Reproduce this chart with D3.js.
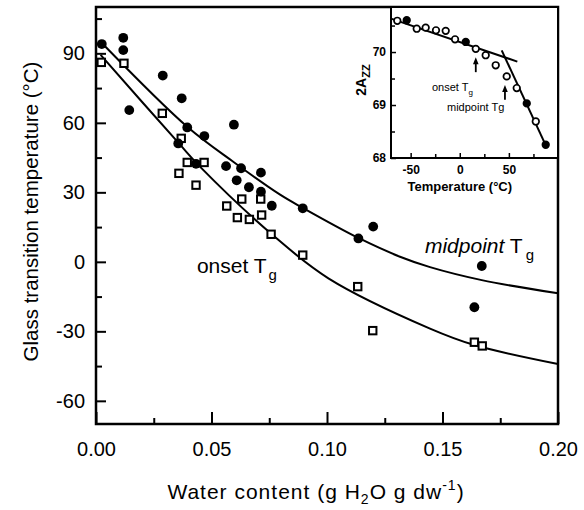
<!DOCTYPE html>
<head>
    <meta charset="utf-8">
    <script src="https://d3js.org/d3.v7.min.js"></script>
    <style>
        body {
            margin: 0;
            background-color: #fff;
        }

        text {
            font-family: "Liberation Sans", Arial, sans-serif;
            fill: #000;
        }

        .axis path {
            display: none;
        }

        .axis line {
            stroke: #000;
            stroke-width: 2px;
        }

        .axis text {
            font-size: 20px;
        }

        .inset .axis line {
            stroke-width: 1.5px;
        }

        .inset .axis text {
            font-size: 12px;
            font-weight: bold;
        }

        .frame {
            fill: none;
            stroke: #000;
            stroke-width: 2.5px;
        }

        .fit {
            fill: none;
            stroke: #000;
            stroke-width: 2px;
        }

        .mid {
            fill: #000;
        }

        .onset {
            fill: #fff;
            stroke: #000;
            stroke-width: 2px;
        }

        .esr {
            stroke: #000;
            stroke-width: 1.7px;
        }
    </style>
</head>

<body>
    <script>
        var width = 584,
            height = 510;

        // main panel: midpoint Tg (filled circles)
        var midWater = [0.0025, 0.0118, 0.0118, 0.0144, 0.0289, 0.0371, 0.0395, 0.0356, 0.0469, 0.0597,
            0.0433, 0.0563, 0.0628, 0.0714, 0.0609, 0.0662, 0.0714, 0.0761, 0.0895, 0.1136, 0.12, 0.167, 0.1638];
        var midTg = [94, 96.7, 91.4, 65.5, 80.4, 70.6, 58, 51.1, 54.3, 59.2,
            42.3, 41.3, 40.4, 38.5, 35.2, 32.2, 30.3, 24.2, 23.1, 10.1, 15.2, -1.8, -19.6];

        // onset Tg (open squares)
        var onsetWater = [0.0023, 0.0121, 0.0287, 0.0369, 0.0359, 0.0395, 0.0468, 0.0433, 0.0566, 0.0631,
            0.0713, 0.0612, 0.0664, 0.0717, 0.0758, 0.0895, 0.1133, 0.1198, 0.1638, 0.1672];
        var onsetTg = [86.1, 85.7, 64.1, 53.3, 38.2, 42.9, 42.9, 33.1, 24.1, 27.1,
            27.1, 19.1, 18.3, 20.2, 11.9, 2.9, -10.7, -29.7, -34.7, -36.3];

        // fitted curves
        var midFitWater = [0.002, 0.0395, 0.0597, 0.0797, 0.0895, 0.1136, 0.1316, 0.1446, 0.167, 0.2];
        var midFitTg = [95, 58.3, 43, 29, 23.3, 10.3, 2.2, -2.3, -7.9, -13.6];
        var onsetFitWater = [0.002, 0.0359, 0.045, 0.0761, 0.1006, 0.1446, 0.1638, 0.2];
        var onsetFitTg = [89.3, 51.1, 41.1, 11.9, -7.1, -28.8, -35.9, -44.1];

        var xMajor = [0, 0.05, 0.1, 0.15, 0.2];
        var xMinor = [0.025, 0.075, 0.125, 0.175];
        var yMajor = [-60, -30, 0, 30, 60, 90];
        var yMinor = [-45, -15, 15, 45, 75, 105];

        // inset: 2Azz vs temperature
        var insetTemp = [-63.6, -54, -43.8, -34.7, -24.2, -14.3, -4.8, 6.1, 16.3, 26.4, 36.6, 47.8, 58, 68.2, 77.4, 87.5];
        var insetA = [70.59, 70.6, 70.44, 70.46, 70.41, 70.4, 70.24, 70.19, 70.06, 69.94, 69.75, 69.54, 69.32, 69.03, 68.69, 68.25];
        var insetFilled = [0, 1, 0, 0, 0, 0, 0, 1, 0, 0, 0, 0, 0, 1, 0, 1];
        var lowLineTemp = [-70, 58.6],
            lowLineA = [70.63, 69.82];
        var highLineTemp = [42.7, 88.5],
            highLineA = [70.03, 68.2];
        var arrowTemp = [16.3, 46],
            arrowFrom = [69.62, 69.1],
            arrowTo = [69.9, 69.38];
        var insetXMajor = [-50, 0, 50];
        var insetXMinor = [-25, 25, 75];
        var insetYMajor = [68, 69, 70];
        var insetYMinor = [68.5, 69.5, 70.5];

        var plotLeft = 96,
            plotRight = 558,
            plotTop = 7,
            plotBottom = 424;

        var svg = d3.select("body").append("svg")
            .attr("width", width)
            .attr("height", height);

        var x = d3.scaleLinear().domain([0, 0.2]).range([plotLeft, plotRight]);
        var y = d3.scaleLinear().domain([-70, 110]).range([plotBottom, plotTop]);

        var line = d3.line()
            .x(function(d) { return x(d[0]); })
            .y(function(d) { return y(d[1]); })
            .curve(d3.curveCatmullRom);

        // axes (ticks point inward)
        svg.append("g")
            .attr("class", "axis")
            .attr("transform", "translate(0," + plotBottom + ")")
            .call(d3.axisBottom(x).tickValues(xMinor).tickSize(-6).tickFormat(""));

        svg.append("g")
            .attr("class", "axis")
            .attr("transform", "translate(0," + plotBottom + ")")
            .call(d3.axisBottom(x).tickValues(xMajor).tickSize(-12).tickPadding(18).tickFormat(d3.format(".2f")));

        svg.append("g")
            .attr("class", "axis")
            .attr("transform", "translate(" + plotLeft + ",0)")
            .call(d3.axisLeft(y).tickValues(yMinor).tickSize(-6).tickFormat(""));

        svg.append("g")
            .attr("class", "axis")
            .attr("transform", "translate(" + plotLeft + ",0)")
            .call(d3.axisLeft(y).tickValues(yMajor).tickSize(-10).tickPadding(11).tickFormat(function(d) {
                return String(d);
            }));

        // fits
        svg.append("path")
            .attr("class", "fit")
            .attr("d", line(d3.zip(midFitWater, midFitTg)));

        svg.append("path")
            .attr("class", "fit")
            .attr("d", line(d3.zip(onsetFitWater, onsetFitTg)));

        // points
        svg.append("g")
            .selectAll("rect")
            .data(d3.zip(onsetWater, onsetTg))
            .enter().append("rect")
            .attr("class", "onset")
            .attr("x", function(d) { return x(d[0]) - 3.7; })
            .attr("y", function(d) { return y(d[1]) - 3.7; })
            .attr("width", 7.4)
            .attr("height", 7.4);

        svg.append("g")
            .selectAll("circle")
            .data(d3.zip(midWater, midTg))
            .enter().append("circle")
            .attr("class", "mid")
            .attr("cx", function(d) { return x(d[0]); })
            .attr("cy", function(d) { return y(d[1]); })
            .attr("r", 4.9);

        // labels
        var onsetLabel = svg.append("text")
            .attr("x", x(0.0437))
            .attr("y", y(-5))
            .style("font-size", "21px");
        onsetLabel.append("tspan").text("onset T");
        onsetLabel.append("tspan").attr("dx", 2).attr("dy", 7).style("font-size", "15px").text("g");

        var midLabel = svg.append("text")
            .attr("x", x(0.1424))
            .attr("y", y(3.7))
            .style("font-size", "21px");
        midLabel.append("tspan").style("font-style", "italic").text("midpoint");
        midLabel.append("tspan").text(" T");
        midLabel.append("tspan").attr("dx", 3).attr("dy", 7).style("font-size", "15px").text("g");

        svg.append("text")
            .attr("transform", "translate(31," + ((plotTop + plotBottom) / 2 - 4) + ") rotate(-90)")
            .attr("text-anchor", "middle")
            .attr("dy", "0.35em")
            .style("font-size", "20.5px")
            .text("Glass transition temperature (\u00b0C)");

        var xTitle = svg.append("text")
            .attr("x", 316)
            .attr("y", 499)
            .attr("text-anchor", "middle")
            .style("font-size", "21px")
            .style("letter-spacing", "1px");
        xTitle.append("tspan").text("Water content (g H");
        xTitle.append("tspan").attr("dy", 5).style("font-size", "14px").text("2");
        xTitle.append("tspan").attr("dy", -5).text("O g dw");
        xTitle.append("tspan").attr("dy", -9).style("font-size", "14px").text("-1");
        xTitle.append("tspan").attr("dy", 9).text(")");

        svg.append("rect")
            .attr("class", "frame")
            .attr("x", plotLeft)
            .attr("y", plotTop)
            .attr("width", plotRight - plotLeft)
            .attr("height", plotBottom - plotTop);

        // inset
        var iLeft = 391,
            iBottom = 158;

        var inset = svg.append("g").attr("class", "inset");

        var ix = d3.scaleLinear().domain([-70, 100]).range([iLeft, plotRight]);
        var iy = d3.scaleLinear().domain([68, 70.85]).range([iBottom, plotTop]);

        inset.append("rect")
            .attr("x", iLeft)
            .attr("y", plotTop)
            .attr("width", plotRight - iLeft)
            .attr("height", iBottom - plotTop)
            .attr("fill", "#fff");

        inset.append("g")
            .attr("class", "axis")
            .attr("transform", "translate(0," + iBottom + ")")
            .call(d3.axisBottom(ix).tickValues(insetXMinor).tickSize(-4).tickFormat(""));

        inset.append("g")
            .attr("class", "axis")
            .attr("transform", "translate(0," + iBottom + ")")
            .call(d3.axisBottom(ix).tickValues(insetXMajor).tickSize(-5).tickPadding(7).tickFormat(function(d) {
                return String(d);
            }));

        inset.append("g")
            .attr("class", "axis")
            .attr("transform", "translate(" + iLeft + ",0)")
            .call(d3.axisLeft(iy).tickValues(insetYMinor).tickSize(-4).tickFormat(""));

        inset.append("g")
            .attr("class", "axis")
            .attr("transform", "translate(" + iLeft + ",0)")
            .call(d3.axisLeft(iy).tickValues(insetYMajor).tickSize(-5).tickPadding(5).tickFormat(function(d) {
                return String(d);
            }));

        var iline = d3.line()
            .x(function(d) { return ix(d[0]); })
            .y(function(d) { return iy(d[1]); });

        inset.append("path")
            .attr("class", "fit")
            .attr("d", iline(d3.zip(lowLineTemp, lowLineA)));

        inset.append("path")
            .attr("class", "fit")
            .attr("d", iline(d3.zip(highLineTemp, highLineA)));

        inset.append("g")
            .selectAll("circle")
            .data(d3.zip(insetTemp, insetA, insetFilled))
            .enter().append("circle")
            .attr("class", "esr")
            .attr("cx", function(d) { return ix(d[0]); })
            .attr("cy", function(d) { return iy(d[1]); })
            .attr("r", 3.3)
            .attr("fill", function(d) { return d[2] ? "#000" : "#fff"; });

        // arrows marking onset and midpoint
        d3.zip(arrowTemp, arrowFrom, arrowTo).forEach(function(a) {
            var ax = ix(a[0]),
                y0 = iy(a[1]),
                y1 = iy(a[2]);
            inset.append("line")
                .attr("x1", ax).attr("x2", ax)
                .attr("y1", y0).attr("y2", y1 + 4)
                .attr("stroke", "#000")
                .attr("stroke-width", 1.8);
            inset.append("path")
                .attr("d", "M" + ax + "," + y1 + "L" + (ax - 2.8) + "," + (y1 + 7) + "L" + (ax + 2.8) + "," + (y1 + 7) + "Z")
                .attr("fill", "#000");
        });

        var iOnset = inset.append("text")
            .attr("x", 432)
            .attr("y", 91)
            .style("font-size", "11px");
        iOnset.append("tspan").text("onset T");
        iOnset.append("tspan").attr("dy", 4).style("font-size", "8px").text("g");

        inset.append("text")
            .attr("x", 447)
            .attr("y", 111)
            .style("font-size", "11px")
            .text("midpoint Tg");

        var aLabel = inset.append("text")
            .attr("transform", "translate(366,80) rotate(-90)")
            .attr("text-anchor", "middle")
            .style("font-size", "14px")
            .style("font-weight", "bold");
        aLabel.append("tspan").text("2A");
        aLabel.append("tspan").attr("dy", 4).style("font-size", "11px").text("ZZ");

        inset.append("text")
            .attr("x", ix(0))
            .attr("y", 191)
            .attr("text-anchor", "middle")
            .style("font-size", "13px")
            .style("font-weight", "bold")
            .text("Temperature (\u00b0C)");

        inset.append("rect")
            .attr("class", "frame")
            .attr("x", iLeft)
            .attr("y", plotTop)
            .attr("width", plotRight - iLeft)
            .attr("height", iBottom - plotTop)
            .style("stroke-width", "2px");
    </script>
</body>
